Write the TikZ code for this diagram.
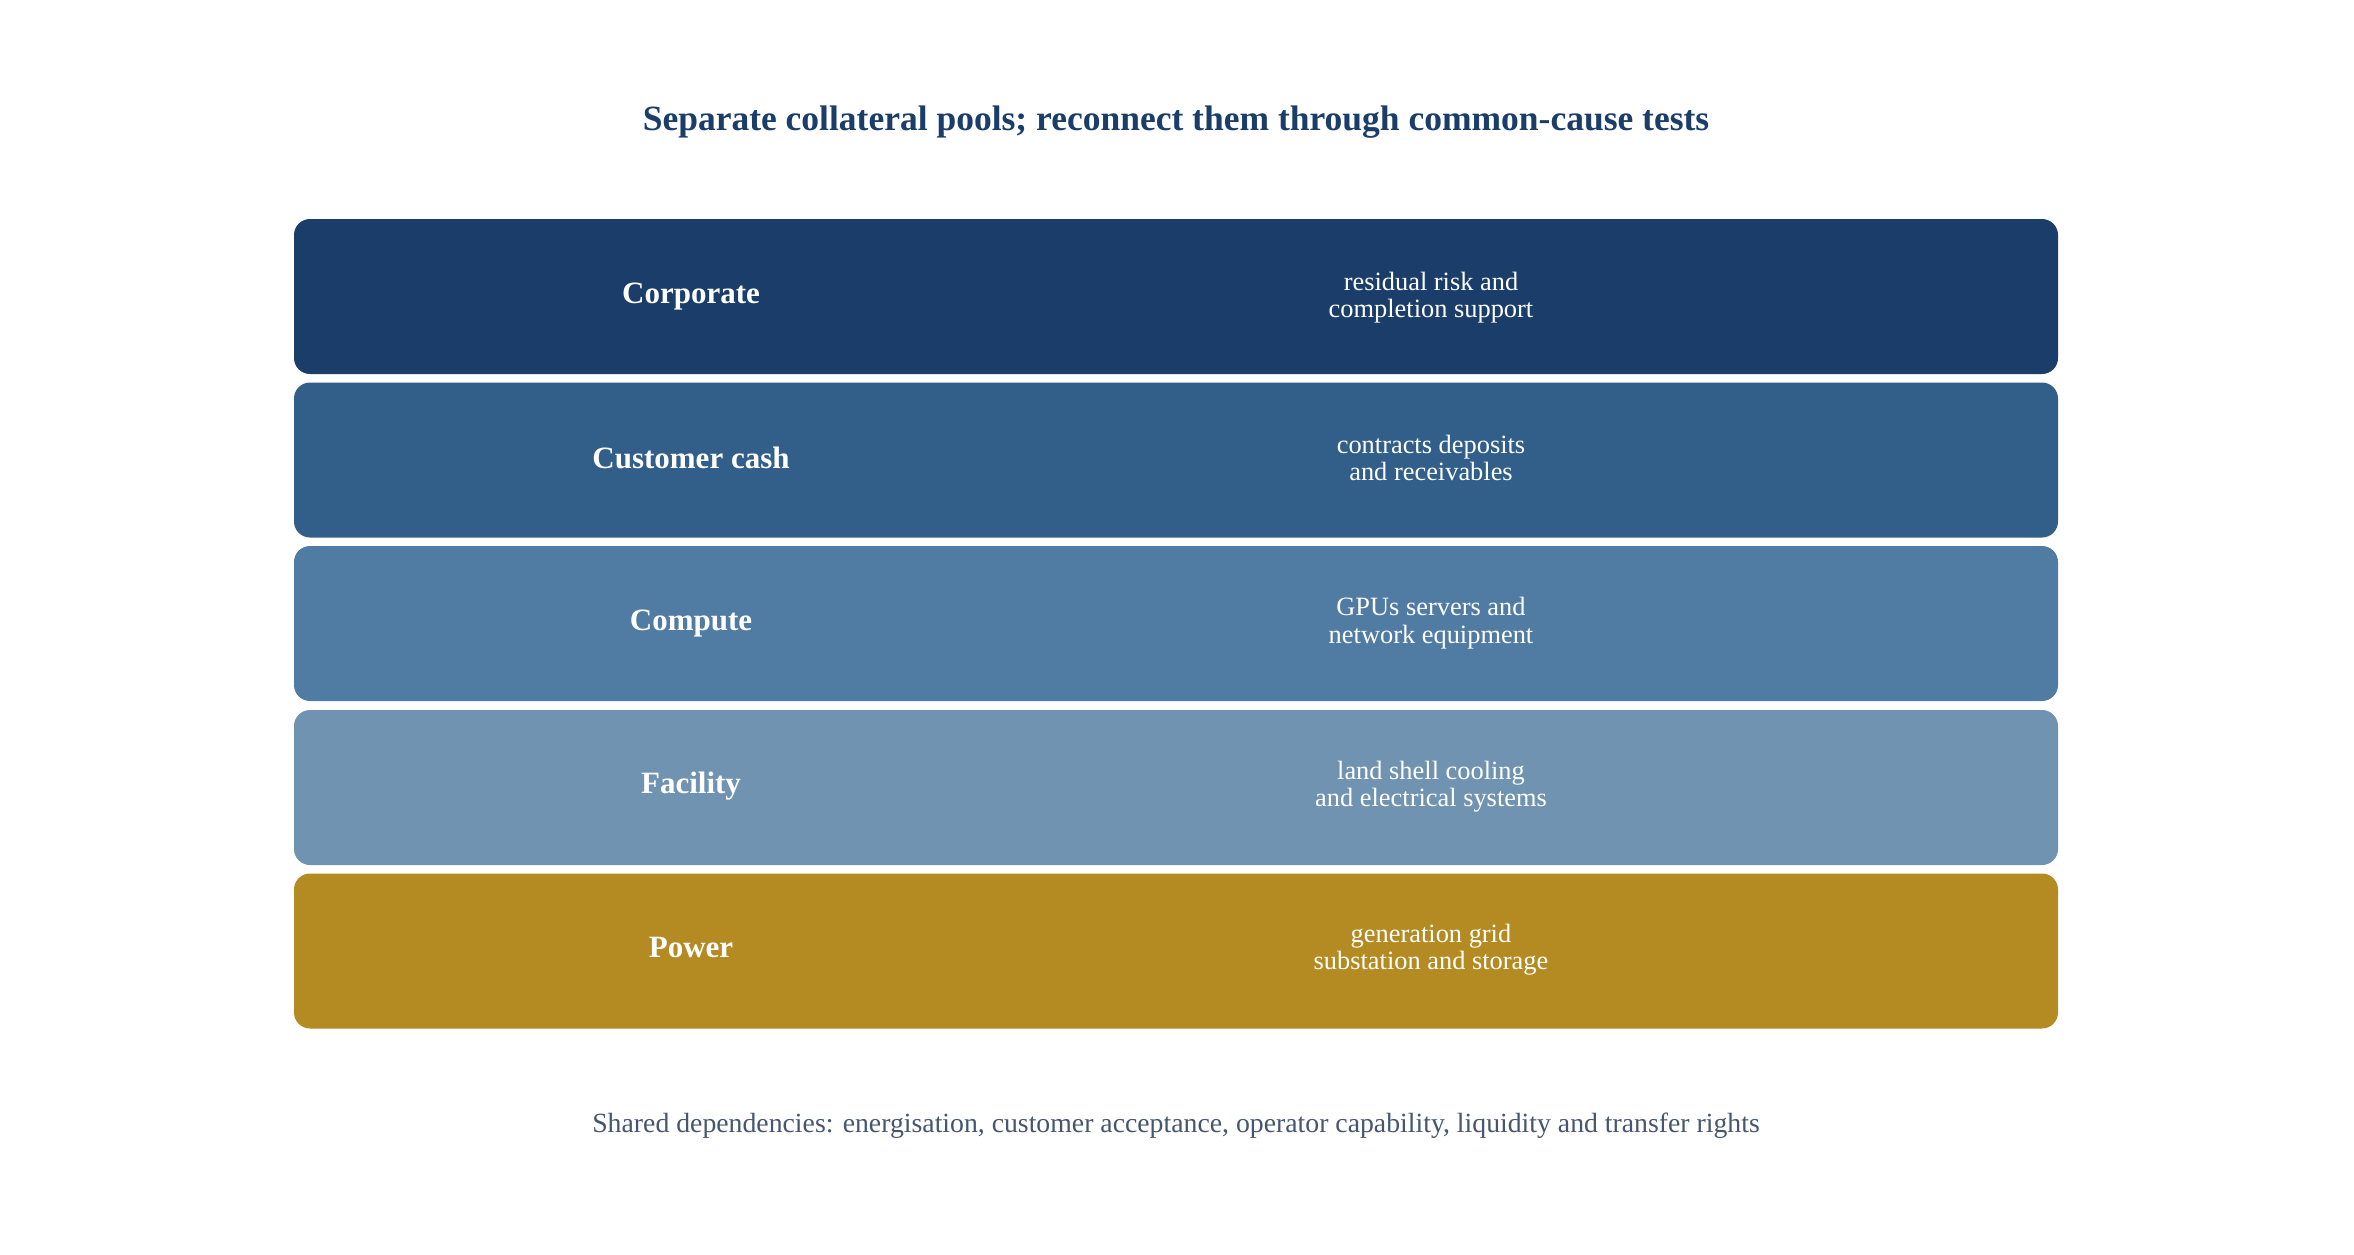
\documentclass[tikz,border=0pt]{standalone}
\usepackage{fontspec}
\setmainfont{Liberation Serif}
\definecolor{titlecol}{HTML}{1B3D6A}
\definecolor{footcol}{HTML}{45566E}
\definecolor{cA}{HTML}{1A3D69}
\definecolor{cB}{HTML}{315F8A}
\definecolor{cC}{HTML}{507CA3}
\definecolor{cD}{HTML}{6F93B0}
\definecolor{cE}{HTML}{B38B22}
\tikzset{
  band/.style={rounded corners=16pt, draw=none, minimum width=1764pt, minimum height=155pt, inner sep=0pt},
  bandlabel/.style={text=white, font=\fontsize{31}{36}\selectfont\bfseries},
  banddesc/.style={text=white, align=center, font=\fontsize{26.4}{27.5}\selectfont},
}
\begin{document}
\begin{tikzpicture}[x=1pt,y=-1pt]
\useasboundingbox (0,0) rectangle (2354,1254);
\fill[white] (0,0) rectangle (2354,1254);
\node[text=titlecol, font=\fontsize{35.5}{40}\selectfont\bfseries] (title) at (1176,122) {Separate collateral pools; reconnect them through common-cause tests};
\node[band, fill=cA] (b1) at (1176,296.5) {};
\node[band, fill=cB] (b2) at (1176,460) {};
\node[band, fill=cC] (b3) at (1176,623.5) {};
\node[band, fill=cD] (b4) at (1176,787.5) {};
\node[band, fill=cE] (b5) at (1176,951) {};
\node[bandlabel] (l1) at (691,297) {Corporate};
\node[bandlabel] (l2) at (691,457.5) {Customer cash};
\node[bandlabel] (l3) at (691,623.5) {Compute};
\node[bandlabel] (l4) at (691,786) {Facility};
\node[bandlabel] (l5) at (691,947.5) {Power};
\node[banddesc] (d1) at (1431,297.5) {residual risk and\\completion support};
\node[banddesc] (d2) at (1431,458) {contracts deposits\\and receivables};
\node[banddesc] (d3) at (1431,623) {GPUs servers and\\network equipment};
\node[banddesc] (d4) at (1431,786.5) {land shell cooling\\and electrical systems};
\node[banddesc] (d5) at (1431,949.5) {generation grid\\substation and storage};
\node[text=footcol, font=\fontsize{27.75}{32}\selectfont] (foot) at (1176,1126) {Shared dependencies: energisation, customer acceptance, operator capability, liquidity and transfer rights};
\end{tikzpicture}
\end{document}
